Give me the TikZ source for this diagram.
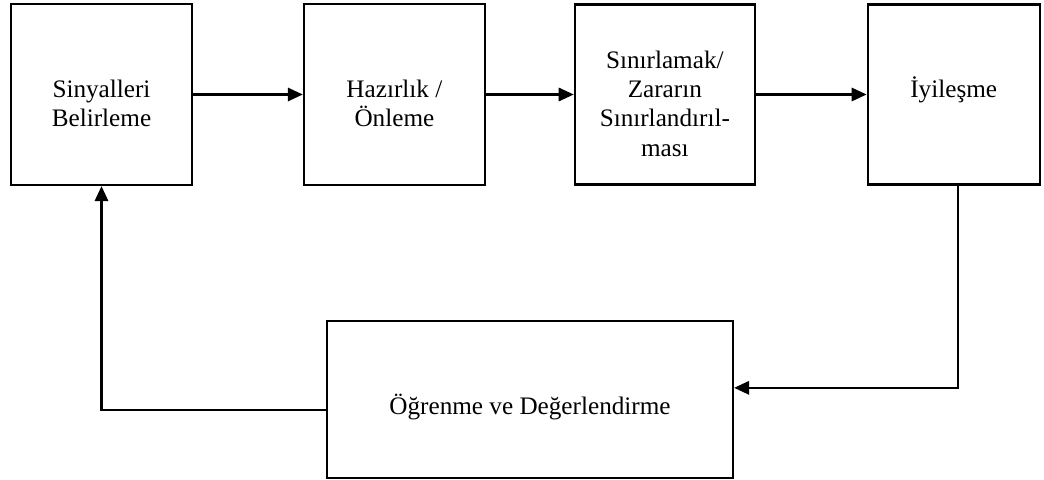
\documentclass[tikz,border=0pt]{standalone}
\usepackage{fontspec}
\setmainfont{Liberation Serif}
\usetikzlibrary{arrows.meta,positioning}
\newcommand{\padtop}{\rule{0pt}{1.07cm}} % text sits a bit low in the boxes
\newcommand{\padbottom}{\rule[-0.45cm]{0pt}{0.45cm}}

\begin{document}
\begin{tikzpicture}[
    x = 0.03cm, y = -0.03cm, % one unit = one pixel of the original
    > = {Triangle[length=0.45cm,width=0.4cm]}, % filled arrow head
    line width = 1.9pt, % line style
    node distance = 3.29cm, % distance between boxes
    font = \fontsize{21.5}{25}\selectfont
    ]

    \tikzset{stage/.style={
    draw = black,
    align = center,
    inner sep = 2pt,
    minimum width = 5.43cm,
    minimum height = 5.43cm
    }}
    \useasboundingbox (0,0) rectangle (1044,479);

    \node[stage] (signals) at (101.5,94.5) {\padtop Sinyalleri\\Belirleme};
    \node[stage] (prepare) [right=of signals] {\padtop Hazırlık /\\Önleme};
    \node[stage, minimum width=5.4cm, minimum height=5.4cm] (limit) [right=2.63cm of prepare] {\padtop Sınırlamak/\\Zararın\\Sınırlandırıl-\\ması};
    \node[stage, minimum width=5.16cm, minimum height=5.4cm] (recover) [right=3.32cm of limit] {İyileşme\padbottom};
    \node[stage, minimum width=12.18cm, minimum height=4.71cm] (learn) at (530,399.5) {\padtop Öğrenme ve Değerlendirme};

    \draw[->] (signals.east) -- (prepare.west);
    \draw[->] (prepare.east) -- (limit.west);
    \draw[->] (limit.east) -- (recover.west);
    \draw[->] ([xshift=0.12cm]recover.south) |- ([yshift=0.35cm]learn.east);
    \draw[->] ([yshift=-0.32cm]learn.west) -| (signals.south);
\end{tikzpicture}
\end{document}
